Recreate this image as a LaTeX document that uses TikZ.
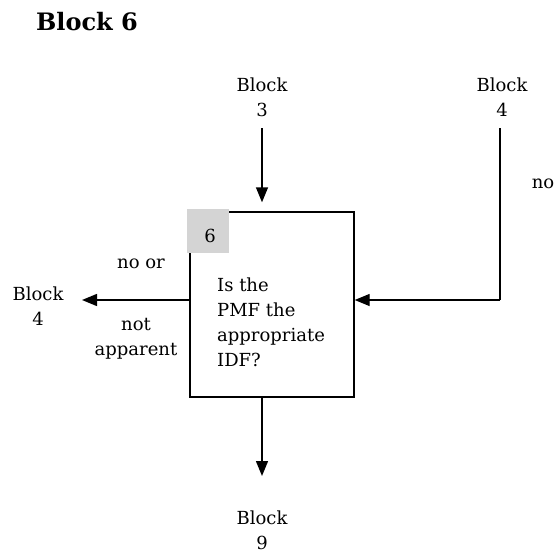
\documentclass[tikz,border=0pt]{standalone}
\usepackage{fontspec}
\setmainfont{DejaVu Serif}
\usetikzlibrary{arrows.meta}
\tikzset{
  lbl/.style={inner sep=0pt, align=center, anchor=north, font=\fontsize{18}{25}\selectfont},
  txt/.style={inner sep=0pt, anchor=base, font=\fontsize{18}{25}\selectfont},
  arr/.style={line width=1.4pt, -{Triangle[length=15pt,width=12pt]}},
  ln/.style={line width=1.4pt},
}
\begin{document}
\begin{tikzpicture}[x=1pt,y=-1pt]
\useasboundingbox (0,0) rectangle (555,555);
\node[inner sep=0pt, anchor=base, font=\fontsize{24}{28}\selectfont\bfseries] (title) at (87,30) {Block 6};
% box
\node[draw, line width=1.4pt, minimum width=164pt, minimum height=185pt, inner sep=0pt] (box) at (272,304.5) {};
\node[fill=black!17, minimum width=42pt, minimum height=44pt, inner sep=0pt] (num) at (208,231) {};
\node[txt] (six) at (210,242) {6};
\node[inner sep=0pt, align=left, anchor=north west, font=\fontsize{18}{25}\selectfont] (q) at (217,278) {Is the\\PMF the\\appropriate\\IDF?};
% labels
\node[lbl] (b3) at (262,78) {Block\\3};
\node[lbl] (b4r) at (502,78) {Block\\4};
\node[lbl] (b4l) at (38,287) {Block\\4};
\node[lbl] (b9) at (262,511) {Block\\9};
\node[txt] (no) at (543,188) {no};
\node[txt] (noor) at (141,268) {no or};
\node[lbl] (na) at (136,318) {not\\apparent};
% connectors
\coordinate (t3) at (262,128);
\draw[arr] (t3) -- (t3 |- box.north) [shorten >=9pt];
\coordinate (l4) at (82,300);
\coordinate (t4) at (500,128);
\coordinate (c4) at (t4 |- l4);
\draw[ln] (t4) -- (c4);
\draw[arr] (c4) -- (c4 -| box.east);
\draw[arr] (l4 -| box.west) -- (l4);
\coordinate (t9) at (262,476);
\draw[arr] (t9 |- box.south) -- (t9);
\end{tikzpicture}
\end{document}
